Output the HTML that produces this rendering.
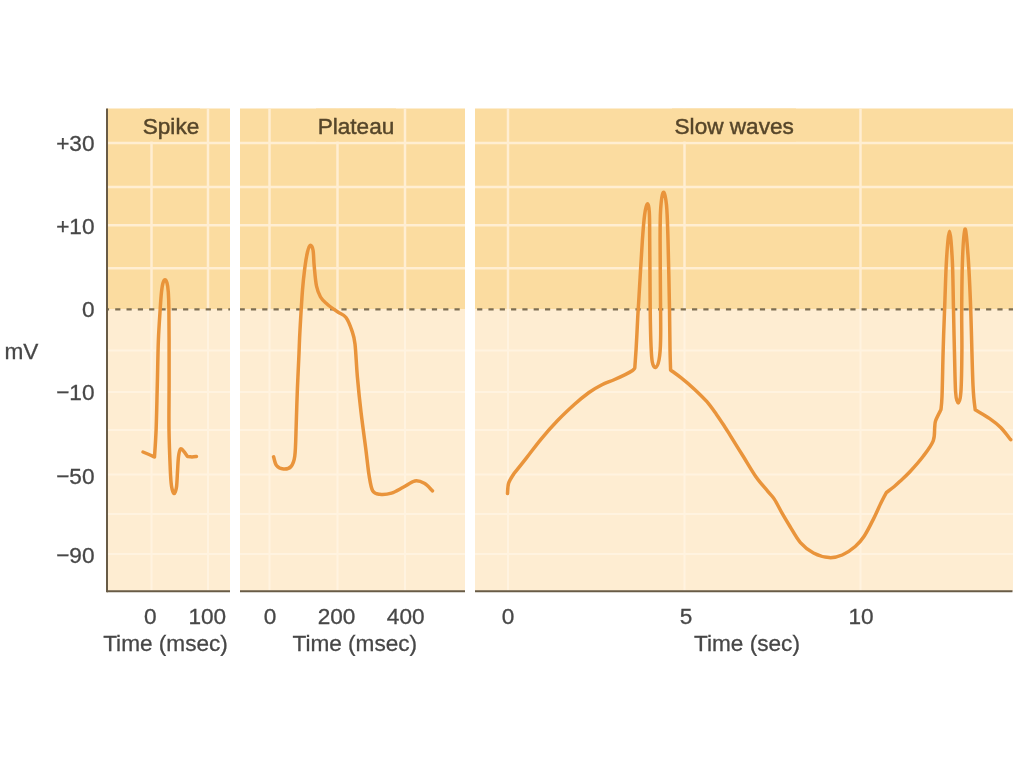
<!DOCTYPE html>
<html><head><meta charset="utf-8"><style>
html,body{margin:0;padding:0;background:#fff;width:1024px;height:767px;overflow:hidden}
svg{display:block;filter:blur(0.4px)}
</style></head><body>
<svg width="1024" height="767" viewBox="0 0 1024 767">
<rect x="107" y="108.5" width="123" height="200.5" fill="#FBDCA0"/>
<rect x="107" y="309" width="123" height="282" fill="#FEEDD2"/>
<line x1="107" x2="230" y1="143" y2="143" stroke="#FFEED2" stroke-width="2.5"/>
<line x1="107" x2="230" y1="187" y2="187" stroke="#FFEED2" stroke-width="2.5"/>
<line x1="107" x2="230" y1="225.2" y2="225.2" stroke="#FFEED2" stroke-width="2.5"/>
<line x1="107" x2="230" y1="268.2" y2="268.2" stroke="#FFEED2" stroke-width="2.5"/>
<line x1="107" x2="230" y1="350.5" y2="350.5" stroke="#FFF3E0" stroke-width="2"/>
<line x1="107" x2="230" y1="392" y2="392" stroke="#FFF3E0" stroke-width="2"/>
<line x1="107" x2="230" y1="430" y2="430" stroke="#FFF3E0" stroke-width="2"/>
<line x1="107" x2="230" y1="474.5" y2="474.5" stroke="#FFF3E0" stroke-width="2"/>
<line x1="107" x2="230" y1="514" y2="514" stroke="#FFF3E0" stroke-width="2"/>
<line x1="107" x2="230" y1="554" y2="554" stroke="#FFF3E0" stroke-width="2"/>
<line x1="151.5" x2="151.5" y1="108.5" y2="309" stroke="#FFEED2" stroke-width="2.5"/>
<line x1="151.5" x2="151.5" y1="309" y2="591" stroke="#FFF3E0" stroke-width="2"/>
<line x1="208" x2="208" y1="108.5" y2="309" stroke="#FFEED2" stroke-width="2.5"/>
<line x1="208" x2="208" y1="309" y2="591" stroke="#FFF3E0" stroke-width="2"/>
<rect x="240" y="108.5" width="225" height="200.5" fill="#FBDCA0"/>
<rect x="240" y="309" width="225" height="282" fill="#FEEDD2"/>
<line x1="240" x2="465" y1="143" y2="143" stroke="#FFEED2" stroke-width="2.5"/>
<line x1="240" x2="465" y1="187" y2="187" stroke="#FFEED2" stroke-width="2.5"/>
<line x1="240" x2="465" y1="225.2" y2="225.2" stroke="#FFEED2" stroke-width="2.5"/>
<line x1="240" x2="465" y1="268.2" y2="268.2" stroke="#FFEED2" stroke-width="2.5"/>
<line x1="240" x2="465" y1="350.5" y2="350.5" stroke="#FFF3E0" stroke-width="2"/>
<line x1="240" x2="465" y1="392" y2="392" stroke="#FFF3E0" stroke-width="2"/>
<line x1="240" x2="465" y1="430" y2="430" stroke="#FFF3E0" stroke-width="2"/>
<line x1="240" x2="465" y1="474.5" y2="474.5" stroke="#FFF3E0" stroke-width="2"/>
<line x1="240" x2="465" y1="514" y2="514" stroke="#FFF3E0" stroke-width="2"/>
<line x1="240" x2="465" y1="554" y2="554" stroke="#FFF3E0" stroke-width="2"/>
<line x1="269.5" x2="269.5" y1="108.5" y2="309" stroke="#FFEED2" stroke-width="2.5"/>
<line x1="269.5" x2="269.5" y1="309" y2="591" stroke="#FFF3E0" stroke-width="2"/>
<line x1="337.5" x2="337.5" y1="108.5" y2="309" stroke="#FFEED2" stroke-width="2.5"/>
<line x1="337.5" x2="337.5" y1="309" y2="591" stroke="#FFF3E0" stroke-width="2"/>
<line x1="405" x2="405" y1="108.5" y2="309" stroke="#FFEED2" stroke-width="2.5"/>
<line x1="405" x2="405" y1="309" y2="591" stroke="#FFF3E0" stroke-width="2"/>
<rect x="475" y="108.5" width="538" height="200.5" fill="#FBDCA0"/>
<rect x="475" y="309" width="538" height="282" fill="#FEEDD2"/>
<line x1="475" x2="1013" y1="143" y2="143" stroke="#FFEED2" stroke-width="2.5"/>
<line x1="475" x2="1013" y1="187" y2="187" stroke="#FFEED2" stroke-width="2.5"/>
<line x1="475" x2="1013" y1="225.2" y2="225.2" stroke="#FFEED2" stroke-width="2.5"/>
<line x1="475" x2="1013" y1="268.2" y2="268.2" stroke="#FFEED2" stroke-width="2.5"/>
<line x1="475" x2="1013" y1="350.5" y2="350.5" stroke="#FFF3E0" stroke-width="2"/>
<line x1="475" x2="1013" y1="392" y2="392" stroke="#FFF3E0" stroke-width="2"/>
<line x1="475" x2="1013" y1="430" y2="430" stroke="#FFF3E0" stroke-width="2"/>
<line x1="475" x2="1013" y1="474.5" y2="474.5" stroke="#FFF3E0" stroke-width="2"/>
<line x1="475" x2="1013" y1="514" y2="514" stroke="#FFF3E0" stroke-width="2"/>
<line x1="475" x2="1013" y1="554" y2="554" stroke="#FFF3E0" stroke-width="2"/>
<line x1="508" x2="508" y1="108.5" y2="309" stroke="#FFEED2" stroke-width="2.5"/>
<line x1="508" x2="508" y1="309" y2="591" stroke="#FFF3E0" stroke-width="2"/>
<line x1="684.5" x2="684.5" y1="108.5" y2="309" stroke="#FFEED2" stroke-width="2.5"/>
<line x1="684.5" x2="684.5" y1="309" y2="591" stroke="#FFF3E0" stroke-width="2"/>
<line x1="860.5" x2="860.5" y1="108.5" y2="309" stroke="#FFEED2" stroke-width="2.5"/>
<line x1="860.5" x2="860.5" y1="309" y2="591" stroke="#FFF3E0" stroke-width="2"/>
<rect x="140" y="108.5" width="60" height="33.0" fill="#FBDCA0"/>
<rect x="316" y="108.5" width="80" height="33.0" fill="#FBDCA0"/>
<rect x="672" y="108.5" width="124" height="33.0" fill="#FBDCA0"/>
<line x1="107" x2="230" y1="309.4" y2="309.4" stroke="#7D6E52" stroke-width="2.4" stroke-dasharray="5.2 6.11" stroke-dashoffset="3.11"/>
<line x1="107" x2="230" y1="591.3" y2="591.3" stroke="#685B46" stroke-width="2"/>
<line x1="240" x2="465" y1="309.4" y2="309.4" stroke="#7D6E52" stroke-width="2.4" stroke-dasharray="5.2 6.11" stroke-dashoffset="0.39"/>
<line x1="240" x2="465" y1="591.3" y2="591.3" stroke="#685B46" stroke-width="2"/>
<line x1="475" x2="1013" y1="309.4" y2="309.4" stroke="#7D6E52" stroke-width="2.4" stroke-dasharray="5.2 6.11" stroke-dashoffset="9.19"/>
<line x1="475" x2="1012.5" y1="591.3" y2="591.3" stroke="#685B46" stroke-width="2"/>
<line x1="107" x2="107" y1="108.5" y2="592.3" stroke="#685B46" stroke-width="2"/>
<path d="M143.0,452.0 C144.0,452.4 147.1,453.7 149.0,454.5 C150.9,455.3 153.6,456.6 154.5,457.0 C154.8,452.5 155.6,442.0 156.1,430.0 C156.6,418.0 156.9,400.0 157.3,385.0 C157.7,370.0 157.9,352.7 158.4,340.0 C158.9,327.3 159.7,317.0 160.2,309.0 C160.7,301.0 161.0,296.3 161.5,292.0 C162.0,287.7 162.4,285.0 163.0,283.0 C163.6,281.0 164.3,279.8 165.0,279.8 C165.7,279.8 166.4,281.0 167.0,283.0 C167.6,285.0 168.0,287.7 168.3,292.0 C168.6,296.3 168.8,301.0 168.9,309.0 C169.0,317.0 169.1,327.3 169.1,340.0 C169.1,352.7 169.1,370.0 169.1,385.0 C169.1,400.0 168.8,415.8 169.0,430.0 C169.2,444.2 169.9,460.7 170.3,470.0 C170.7,479.3 170.9,482.1 171.5,486.0 C172.1,489.9 173.2,493.3 174.0,493.5 C174.8,493.7 175.9,490.9 176.5,487.0 C177.1,483.1 177.2,475.2 177.6,470.0 C177.9,464.8 178.1,459.5 178.6,456.0 C179.1,452.5 179.7,449.8 180.5,449.0 C181.3,448.2 182.3,449.8 183.5,451.0 C184.7,452.2 186.8,455.6 187.5,456.5 C188.2,456.6 190.5,457.0 192.0,457.0 C193.5,457.0 195.8,456.6 196.5,456.5" fill="none" stroke="#E9943B" stroke-width="3.5" stroke-linecap="round" stroke-linejoin="round"/>
<path d="M273.6,456.8 C274.1,458.2 274.9,463.5 276.5,465.5 C278.1,467.5 281.1,468.8 283.5,469.0 C285.9,469.2 289.1,468.7 291.0,466.5 C292.9,464.3 293.9,462.9 294.8,456.0 C295.7,449.1 295.8,436.2 296.2,425.0 C296.6,413.8 296.9,400.6 297.4,388.7 C297.9,376.8 298.6,363.3 299.0,353.5 C299.4,343.7 299.4,340.6 300.0,330.0 C300.6,319.4 301.7,300.3 302.5,290.0 C303.3,279.7 304.0,274.3 304.8,268.0 C305.6,261.7 306.6,255.8 307.5,252.0 C308.4,248.2 309.3,245.6 310.2,245.3 C311.1,245.0 312.3,246.6 313.0,250.0 C313.7,253.4 313.6,260.0 314.2,266.0 C314.8,272.0 315.4,280.8 316.5,286.0 C317.6,291.2 318.8,294.0 320.5,297.0 C322.2,300.0 324.2,301.5 327.0,304.0 C329.8,306.5 334.3,309.6 337.5,311.8 C340.7,314.1 343.6,314.4 346.0,317.5 C348.4,320.6 350.3,326.0 351.8,330.4 C353.3,334.8 354.1,336.2 355.0,344.0 C355.9,351.8 356.4,365.7 357.4,377.0 C358.4,388.3 359.6,400.3 361.0,412.0 C362.4,423.7 364.2,436.8 365.6,447.4 C367.0,458.0 367.9,468.3 369.1,475.5 C370.3,482.7 370.9,487.7 372.7,490.8 C374.5,493.9 376.6,493.9 379.7,494.3 C382.8,494.7 387.6,494.3 391.5,493.1 C395.4,491.9 399.3,489.3 403.2,487.3 C407.1,485.3 411.4,481.7 414.9,481.0 C418.4,480.3 421.4,481.7 424.3,483.3 C427.2,484.9 431.1,489.6 432.5,490.8" fill="none" stroke="#E9943B" stroke-width="3.5" stroke-linecap="round" stroke-linejoin="round"/>
<path d="M507.5,493.6 C507.7,491.9 507.6,486.5 508.6,483.2 C509.7,479.9 512.9,475.4 513.8,473.8 C515.9,471.2 521.8,463.9 526.3,458.1 C530.8,452.4 535.7,445.6 540.9,439.3 C546.1,433.0 552.0,426.3 557.6,420.5 C563.2,414.7 569.1,409.2 574.3,404.5 C579.5,399.8 584.5,395.8 589.0,392.5 C593.5,389.2 597.4,387.1 601.5,385.0 C605.6,382.9 609.5,381.7 613.5,380.0 C617.5,378.3 622.1,376.1 625.2,374.6 C628.3,373.1 630.6,371.9 632.2,370.8 C633.8,369.7 634.4,368.5 634.8,368.0 C635.0,364.9 635.6,357.1 636.1,349.1 C636.6,341.1 637.2,328.2 637.6,320.0 C638.0,311.8 638.0,313.3 638.8,300.0 C639.6,286.7 641.4,254.2 642.4,240.0 C643.4,225.8 643.8,221.0 644.6,215.0 C645.4,209.0 646.5,204.5 647.3,204.0 C648.1,203.5 648.9,206.0 649.3,212.0 C649.7,218.0 649.6,223.8 649.7,240.0 C649.9,256.2 650.0,291.5 650.2,309.0 C650.4,326.5 650.6,336.2 651.0,345.0 C651.4,353.8 651.5,358.2 652.3,362.0 C653.0,365.8 654.4,367.8 655.5,367.5 C656.6,367.2 658.1,364.6 659.0,360.0 C659.9,355.4 660.4,350.0 660.6,340.0 C660.9,330.0 660.6,316.7 660.5,300.0 C660.4,283.3 660.1,255.0 660.1,240.0 C660.1,225.0 660.1,217.9 660.6,210.0 C661.1,202.1 662.3,193.1 663.3,192.3 C664.3,191.5 665.7,197.1 666.5,205.0 C667.3,212.9 667.5,222.7 668.0,240.0 C668.5,257.3 669.2,290.8 669.5,309.0 C669.8,327.2 669.8,338.8 670.0,349.0 C670.2,359.2 670.5,366.5 670.6,370.0 C672.3,371.3 676.9,374.5 680.9,377.7 C684.9,380.9 690.1,385.2 694.4,389.2 C698.7,393.2 703.2,397.5 706.9,401.7 C710.5,405.9 713.3,410.0 716.3,414.2 C719.3,418.4 722.4,423.2 724.7,426.7 C727.0,430.2 727.0,430.3 730.0,435.2 C733.0,440.1 738.6,449.0 743.0,456.0 C747.4,463.0 752.0,471.1 756.1,477.0 C760.2,482.9 764.8,487.6 767.8,491.3 C770.8,495.0 771.9,495.4 774.3,499.1 C776.7,502.8 779.6,508.8 782.2,513.4 C784.8,518.0 787.0,521.6 790.0,526.5 C793.0,531.4 796.5,538.2 800.4,542.6 C804.3,547.0 808.7,550.5 813.5,553.0 C818.3,555.5 824.3,557.3 829.1,557.6 C833.9,557.9 837.9,556.9 842.2,555.0 C846.6,553.1 851.5,549.7 855.2,546.5 C858.9,543.3 861.3,540.6 864.3,536.0 C867.3,531.4 870.6,524.7 873.4,519.1 C876.2,513.5 879.1,506.6 881.3,502.2 C883.5,497.8 885.6,494.0 886.5,492.4 C887.8,491.4 892.0,488.4 894.3,486.5 C896.5,484.6 897.4,483.8 900.0,481.3 C902.6,478.9 906.0,476.0 909.9,471.8 C913.8,467.6 919.3,461.5 923.2,456.3 C927.1,451.1 931.3,445.6 933.2,440.8 C935.1,436.0 934.3,430.8 934.7,427.5 C935.1,424.2 934.6,423.8 935.6,420.8 C936.6,417.9 940.0,411.6 940.9,409.8 C941.1,407.6 941.6,406.1 942.0,396.5 C942.4,386.9 942.7,366.8 943.1,352.2 C943.5,337.6 944.0,324.4 944.6,309.0 C945.2,293.6 945.7,272.9 946.5,260.0 C947.3,247.1 948.5,231.3 949.5,231.3 C950.5,231.3 951.6,247.1 952.3,260.0 C953.0,272.9 953.1,294.0 953.5,309.0 C953.9,324.0 954.0,336.2 954.4,350.0 C954.8,363.8 955.0,383.2 955.6,392.0 C956.2,400.8 957.3,403.0 958.2,403.0 C959.1,403.0 960.3,400.8 960.9,392.0 C961.5,383.2 961.8,363.8 961.9,350.0 C962.0,336.2 961.6,324.0 961.7,309.0 C961.8,294.0 962.0,273.3 962.5,260.0 C963.0,246.7 964.1,229.8 965.0,229.0 C965.9,228.2 967.0,241.7 968.0,255.0 C969.0,268.3 969.9,287.3 970.7,309.0 C971.5,330.7 972.2,368.6 973.0,385.4 C973.8,402.2 974.8,405.7 975.2,409.8 C977.6,411.3 985.5,415.7 989.7,418.6 C994.0,421.6 997.2,424.0 1000.7,427.5 C1004.2,431.0 1009.0,437.7 1010.7,439.7" fill="none" stroke="#E9943B" stroke-width="3.5" stroke-linecap="round" stroke-linejoin="round"/>
<text x="171" y="134.3" text-anchor="middle" font-family="Liberation Sans, sans-serif" font-size="22.6" fill="#56462A" stroke="#56462A" stroke-width="0.45">Spike</text>
<text x="356" y="134.3" text-anchor="middle" font-family="Liberation Sans, sans-serif" font-size="22.6" fill="#56462A" stroke="#56462A" stroke-width="0.45">Plateau</text>
<text x="734.2" y="134.3" text-anchor="middle" font-family="Liberation Sans, sans-serif" font-size="22.6" fill="#56462A" stroke="#56462A" stroke-width="0.45">Slow waves</text>
<text x="94.5" y="151.29999999999998" text-anchor="end" font-family="Liberation Sans, sans-serif" font-size="22.6" fill="#474747" stroke="#474747" stroke-width="0.3">+30</text>
<text x="94.5" y="233.89999999999998" text-anchor="end" font-family="Liberation Sans, sans-serif" font-size="22.6" fill="#474747" stroke="#474747" stroke-width="0.3">+10</text>
<text x="94.5" y="317.3" text-anchor="end" font-family="Liberation Sans, sans-serif" font-size="22.6" fill="#474747" stroke="#474747" stroke-width="0.3">0</text>
<text x="94.5" y="400.2" text-anchor="end" font-family="Liberation Sans, sans-serif" font-size="22.6" fill="#474747" stroke="#474747" stroke-width="0.3">−10</text>
<text x="94.5" y="483.5" text-anchor="end" font-family="Liberation Sans, sans-serif" font-size="22.6" fill="#474747" stroke="#474747" stroke-width="0.3">−50</text>
<text x="94.5" y="562.9000000000001" text-anchor="end" font-family="Liberation Sans, sans-serif" font-size="22.6" fill="#474747" stroke="#474747" stroke-width="0.3">−90</text>
<text x="4.5" y="359" font-family="Liberation Sans, sans-serif" font-size="22.6" fill="#474747" stroke="#474747" stroke-width="0.3">mV</text>
<text x="150.3" y="623.6" text-anchor="middle" font-family="Liberation Sans, sans-serif" font-size="22.6" fill="#474747" stroke="#474747" stroke-width="0.3">0</text>
<text x="207.3" y="623.6" text-anchor="middle" font-family="Liberation Sans, sans-serif" font-size="22.6" fill="#474747" stroke="#474747" stroke-width="0.3">100</text>
<text x="270" y="623.6" text-anchor="middle" font-family="Liberation Sans, sans-serif" font-size="22.6" fill="#474747" stroke="#474747" stroke-width="0.3">0</text>
<text x="336.5" y="623.6" text-anchor="middle" font-family="Liberation Sans, sans-serif" font-size="22.6" fill="#474747" stroke="#474747" stroke-width="0.3">200</text>
<text x="405.7" y="623.6" text-anchor="middle" font-family="Liberation Sans, sans-serif" font-size="22.6" fill="#474747" stroke="#474747" stroke-width="0.3">400</text>
<text x="508" y="623.6" text-anchor="middle" font-family="Liberation Sans, sans-serif" font-size="22.6" fill="#474747" stroke="#474747" stroke-width="0.3">0</text>
<text x="686" y="623.6" text-anchor="middle" font-family="Liberation Sans, sans-serif" font-size="22.6" fill="#474747" stroke="#474747" stroke-width="0.3">5</text>
<text x="861" y="623.6" text-anchor="middle" font-family="Liberation Sans, sans-serif" font-size="22.6" fill="#474747" stroke="#474747" stroke-width="0.3">10</text>
<text x="165.5" y="650.5" text-anchor="middle" font-family="Liberation Sans, sans-serif" font-size="22.6" fill="#474747" stroke="#474747" stroke-width="0.3">Time (msec)</text>
<text x="354.8" y="650.5" text-anchor="middle" font-family="Liberation Sans, sans-serif" font-size="22.6" fill="#474747" stroke="#474747" stroke-width="0.3">Time (msec)</text>
<text x="747" y="650.5" text-anchor="middle" font-family="Liberation Sans, sans-serif" font-size="22.6" fill="#474747" stroke="#474747" stroke-width="0.3">Time (sec)</text>
</svg>
</body></html>
